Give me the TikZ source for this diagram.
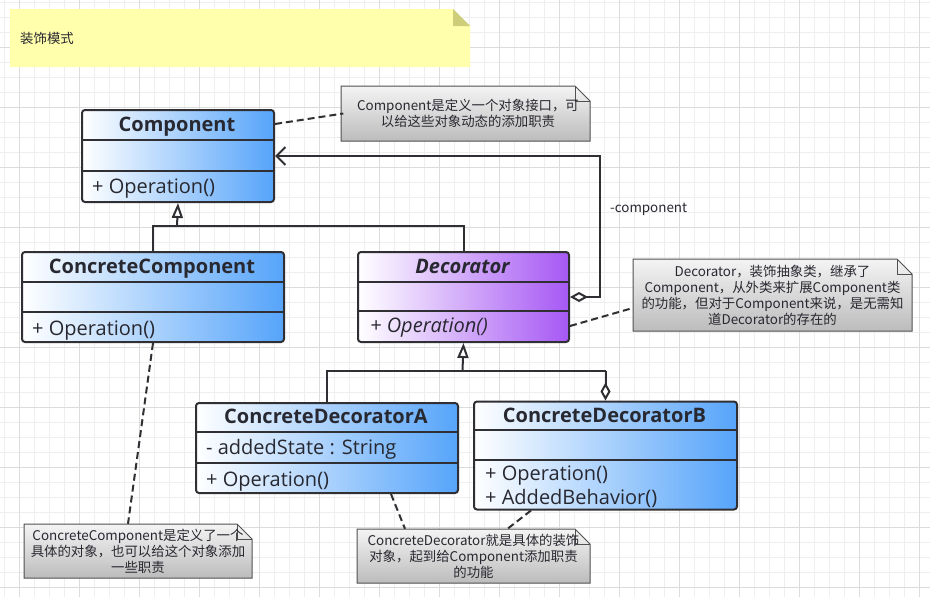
\documentclass[tikz,border=0pt]{standalone}
\usepackage{fontspec}
\setmainfont{Open Sans}
\newfontfamily\cjk{Noto Sans CJK SC}
\usetikzlibrary{arrows.meta}
\definecolor{umlblue}{RGB}{86,164,250}
\definecolor{umlpurple}{RGB}{166,88,244}
\definecolor{edgec}{RGB}{48,48,52}
\definecolor{textc}{RGB}{40,40,48}
\definecolor{notetop}{RGB}{244,244,244}
\definecolor{notebot}{RGB}{188,188,188}
\definecolor{notedraw}{RGB}{80,80,80}
\definecolor{noteyellow}{RGB}{255,255,172}
\definecolor{foldolive}{RGB}{206,206,122}
\definecolor{gridminor}{RGB}{238,238,238}
\definecolor{gridmajor}{RGB}{220,220,220}
\newcommand{\notebg}[4]{%
  \path[draw=notedraw, line width=1pt, top color=notetop, bottom color=notebot]
    (#1,#2) -- ({#3-15},#2) -- (#3,{#2+15}) -- (#3,#4) -- (#1,#4) -- cycle;
  \draw[notedraw, line width=0.8pt] ({#3-15},#2) -- ({#3-15},{#2+15}) -- (#3,{#2+15});}
\begin{document}
\begin{tikzpicture}[x=1pt,y=-1pt,
  classbox/.style={draw=edgec, line width=2pt, rounded corners=3pt, left color=white,
    right color=umlblue, anchor=north west, inner sep=0pt},
  absbox/.style={classbox, right color=umlpurple},
  divider/.style={draw=edgec, line width=2pt},
  titletext/.style={anchor=base, inner sep=0pt, text=textc, font=\fontsize{20}{24}\selectfont\bfseries},
  optext/.style={anchor=base west, inner sep=0pt, text=textc, font=\fontsize{20}{24}\selectfont},
  notetext/.style={inner sep=0pt, align=center, text=textc, font=\cjk\fontsize{13.4}{16}\selectfont},
  conn/.style={draw=edgec, line width=2pt},
  gen/.style={conn, -{Triangle[open, length=15pt, width=11pt, fill=white]}},
  notelink/.style={draw=edgec, line width=2pt, dash pattern=on 7pt off 4pt}
]
\useasboundingbox (0,0) rectangle (930,597);
\fill[white] (0,0) rectangle (930,597);
% grid
\foreach \x in {4,19,...,930} \draw[gridminor, line width=1pt] (\x,0) -- (\x,597);
\foreach \y in {2,17,...,597} \draw[gridminor, line width=1pt] (0,\y) -- (930,\y);
\foreach \x in {19,79,...,930} \draw[gridmajor, line width=1pt] (\x,0) -- (\x,597);
\foreach \y in {47,107,...,597} \draw[gridmajor, line width=1pt] (0,\y) -- (930,\y);

% title note
\fill[noteyellow] (10,9) -- (453,9) -- (470,26) -- (470,67) -- (10,67) -- cycle;
\fill[foldolive] (453,9) -- (453,26) -- (470,26) -- cycle;
\node[anchor=west, inner sep=0pt, text=textc, font=\cjk\fontsize{13.4}{16}\selectfont] (title) at (20,38) {装饰模式};

% notes backgrounds
\notebg{341}{86}{590}{141}
\notebg{633}{259}{912}{331}
\notebg{24}{524}{252}{578}
\notebg{357}{529}{590}{583}
\node[notetext, minimum width=249pt, minimum height=55pt] (n1) at (468,113.5)
  {Component是定义一个对象接口，可\\以给这些对象动态的添加职责};
\node[notetext, minimum width=279pt, minimum height=72pt] (n2) at (772.5,295)
  {Decorator，装饰抽象类，继承了\\Component，从外类来扩展Component类\\的功能，但对于Component来说，是无需知\\道Decorator的存在的};
\node[notetext, minimum width=228pt, minimum height=54pt] (n3) at (138,551)
  {ConcreteComponent是定义了一个\\具体的对象，也可以给这个对象添加\\一些职责};
\node[notetext, minimum width=233pt, minimum height=54pt] (n4) at (473.5,556)
  {ConcreteDecorator就是具体的装饰\\对象，起到给Component添加职责\\的功能};

% Component
\node[classbox, minimum width=192pt, minimum height=92pt] (comp) at (81,109) {};
\draw[divider] (81,140) -- (273,140);
\draw[divider] (81,170.5) -- (273,170.5);
\node[titletext] (compt) at (177,131) {Component};
\node[optext] (compop) at (92,193) {+ Operation()};

% ConcreteComponent
\node[classbox, minimum width=262pt, minimum height=90pt] (cc) at (21,251) {};
\draw[divider] (21,282) -- (283,282);
\draw[divider] (21,312) -- (283,312);
\node[titletext] (cct) at (152,273) {ConcreteComponent};
\node[optext] (ccop) at (32,335) {+ Operation()};

% Decorator
\node[absbox, minimum width=211pt, minimum height=90pt] (dec) at (357,251) {};
\draw[divider] (357,282) -- (568,282);
\draw[divider] (357,311) -- (568,311);
\node[titletext, font=\fontsize{20}{24}\selectfont\bfseries\itshape] (dect) at (462.5,273) {Decorator};
\node[optext, font=\fontsize{20}{24}\selectfont\itshape] (decop) at (370,332) {+ Operation()};

% ConcreteDecoratorA
\node[classbox, minimum width=262pt, minimum height=90pt] (cda) at (195,402) {};
\draw[divider] (195,432) -- (457,432);
\draw[divider] (195,463) -- (457,463);
\node[titletext] (cdat) at (326,423) {ConcreteDecoratorA};
\node[optext] (cdaat) at (206,454) {- addedState : String};
\node[optext] (cdaop) at (206,486) {+ Operation()};

% ConcreteDecoratorB
\node[classbox, minimum width=263pt, minimum height=108pt] (cdb) at (473,400.5) {};
\draw[divider] (473,430) -- (736,430);
\draw[divider] (473,459.5) -- (736,459.5);
\node[titletext] (cdbt) at (604.5,422) {ConcreteDecoratorB};
\node[optext] (cdbop) at (485,480) {+ Operation()};
\node[optext] (cdbab) at (485,504) {+ AddedBehavior()};

% generalization Component
\coordinate (j1) at (177,226);
\draw[gen] (j1) -- (comp.south);
\draw[conn] (cc.north) -- (cc.north |- j1) -- (dec.north |- j1) -- (dec.north);

% generalization Decorator
\coordinate (j2) at (462.5,371);
\draw[gen] (j2) -- (dec.south);
\draw[conn] (cda.north) -- (cda.north |- j2) -- (cdb.north |- j2);
\draw[conn, -{Diamond[length=18pt, width=10pt, fill=white]}] (cdb.north |- j2) -- (cdb.north);

% aggregation Decorator -> Component
\draw[conn, line join=miter, {Diamond[length=18pt, width=10pt, fill=white]}-{Straight Barb[length=9pt, width=18pt]}]
  (dec.east) -- ++(30,0) |- (comp.east);
\node[anchor=west, inner sep=0pt, text=textc, font=\cjk\fontsize{13.4}{16}\selectfont] (lbl) at (610,209) {-component};

% note links
\draw[notelink] ([yshift=-15pt]comp.north east) -- (n1.west);
\draw[notelink] ([yshift=-29pt]dec.east) -- ([yshift=-13pt]n2.west);
\draw[notelink] (cc.south) -- ([xshift=-10pt]n3.north);
\draw[notelink] ([xshift=64pt]cda.south) -- ([xshift=-68.5pt]n4.north);
\draw[notelink] ([xshift=-74.5pt]cdb.south) -- ([xshift=34pt]n4.north);
\end{tikzpicture}
\end{document}
